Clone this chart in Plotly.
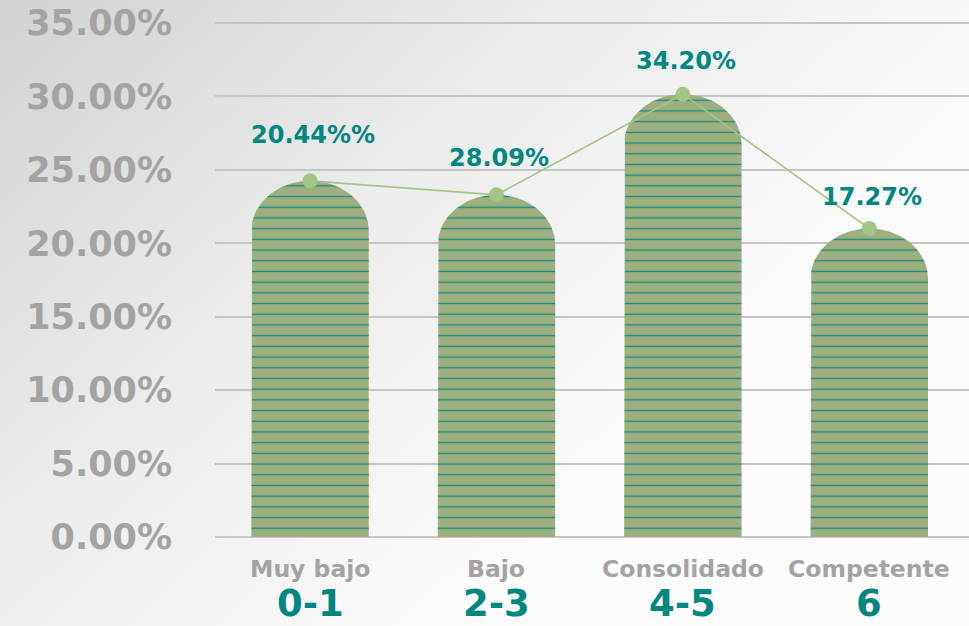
import base64
import numpy as np
import plotly.graph_objects as go

# ---- data ----
categories = ["Muy bajo", "Bajo", "Consolidado", "Competente"]
ranges = ["0-1", "2-3", "4-5", "6"]
bar_values = [24.25, 23.3, 30.15, 21.0]
value_labels = ["20.44%%", "28.09%", "34.20%", "17.27%"]
tick_values = [0, 5, 10, 15, 20, 25, 30, 35]
tick_labels = ["0.00%", "5.00%", "10.00%", "15.00%", "20.00%", "25.00%", "30.00%", "35.00%"]

# ---- style ----
label_lift = [46, 37, 33, 32]
OLIVE = "#9daf7f"
STRIPE = "#178b7c"
TEAL = "#00877f"
GRAY = "#a3a3a3"
LINE = "#a3c585"
FONT = "DejaVu Sans"
half_w = 0.315
arch_h = 3.4

fig = go.Figure()

xs = list(range(len(categories)))
for i, v in enumerate(bar_values):
    c = xs[i]
    t = np.linspace(np.pi, 0, 60)
    ax = c + half_w * np.cos(t)
    ay = (v - arch_h) + arch_h * np.sin(t)
    px = [c - half_w] + list(ax) + [c + half_w, c - half_w]
    py = [0] + list(ay) + [0, 0]
    fig.add_trace(go.Scatter(
        x=px, y=py, mode="lines", fill="toself",
        line=dict(width=0, color=OLIVE), fillcolor=OLIVE,
        fillpattern=dict(shape="-", bgcolor=OLIVE, fgcolor=STRIPE,
                         size=10.7, solidity=0.12, fillmode="replace"),
        hoverinfo="skip", showlegend=False))

fig.add_trace(go.Scatter(
    x=xs, y=bar_values, mode="lines+markers",
    line=dict(color=LINE, width=1.6),
    marker=dict(color=LINE, size=15),
    showlegend=False))

annotations = []
for i, c in enumerate(xs):
    annotations.append(dict(
        x=c, y=bar_values[i], xref="x", yref="y", text=value_labels[i],
        showarrow=False, yshift=label_lift[i], xshift=3,
        font=dict(family=FONT, size=24, color=TEAL, weight="bold")))
    annotations.append(dict(
        x=c, y=0, xref="x", yref="paper", text=categories[i],
        showarrow=False, yanchor="middle", yshift=-29,
        font=dict(family=FONT, size=23.5, color=GRAY, weight="bold")))
    annotations.append(dict(
        x=c, y=0, xref="x", yref="paper", text=ranges[i],
        showarrow=False, yanchor="middle", yshift=-63,
        font=dict(family=FONT, size=37, color=TEAL, weight="bold")))

svg = """<svg xmlns='http://www.w3.org/2000/svg' width='969' height='626'>
<defs><linearGradient id='g' x1='0' y1='0' x2='0.8' y2='0.55'>
<stop offset='0' stop-color='#d1d2d3'/>
<stop offset='0.5' stop-color='#ececec'/>
<stop offset='1' stop-color='#fcfcfc'/>
</linearGradient></defs>
<rect width='969' height='626' fill='url(#g)'/></svg>"""
src = "data:image/svg+xml;base64," + base64.b64encode(svg.encode()).decode()

fig.update_layout(
    width=969, height=626,
    margin=dict(l=215, r=0, t=20, b=86),
    paper_bgcolor="white", plot_bgcolor="rgba(0,0,0,0)",
    images=[dict(source=src, xref="paper", yref="paper", x=-215/754, y=1 + 20/520,
                 sizex=969/754, sizey=626/520, xanchor="left", yanchor="top",
                 sizing="stretch", layer="below")],
    annotations=annotations,
    xaxis=dict(range=[-0.51, 3.535], showgrid=False, zeroline=False,
               showticklabels=False, fixedrange=True),
    yaxis=dict(range=[-0.204, 35.204], tickvals=tick_values, ticktext=tick_labels,
               showgrid=True, gridcolor="#c6c6c6", gridwidth=1.8, zeroline=False,
               ticks="", ticklabelstandoff=42,
               tickfont=dict(family=FONT, size=35, color=GRAY, weight="bold")),
)

fig.write_html("out.html", config={"displayModeBar": False},
               post_script="document.body.style.margin='0px';document.body.style.overflow='hidden';")
